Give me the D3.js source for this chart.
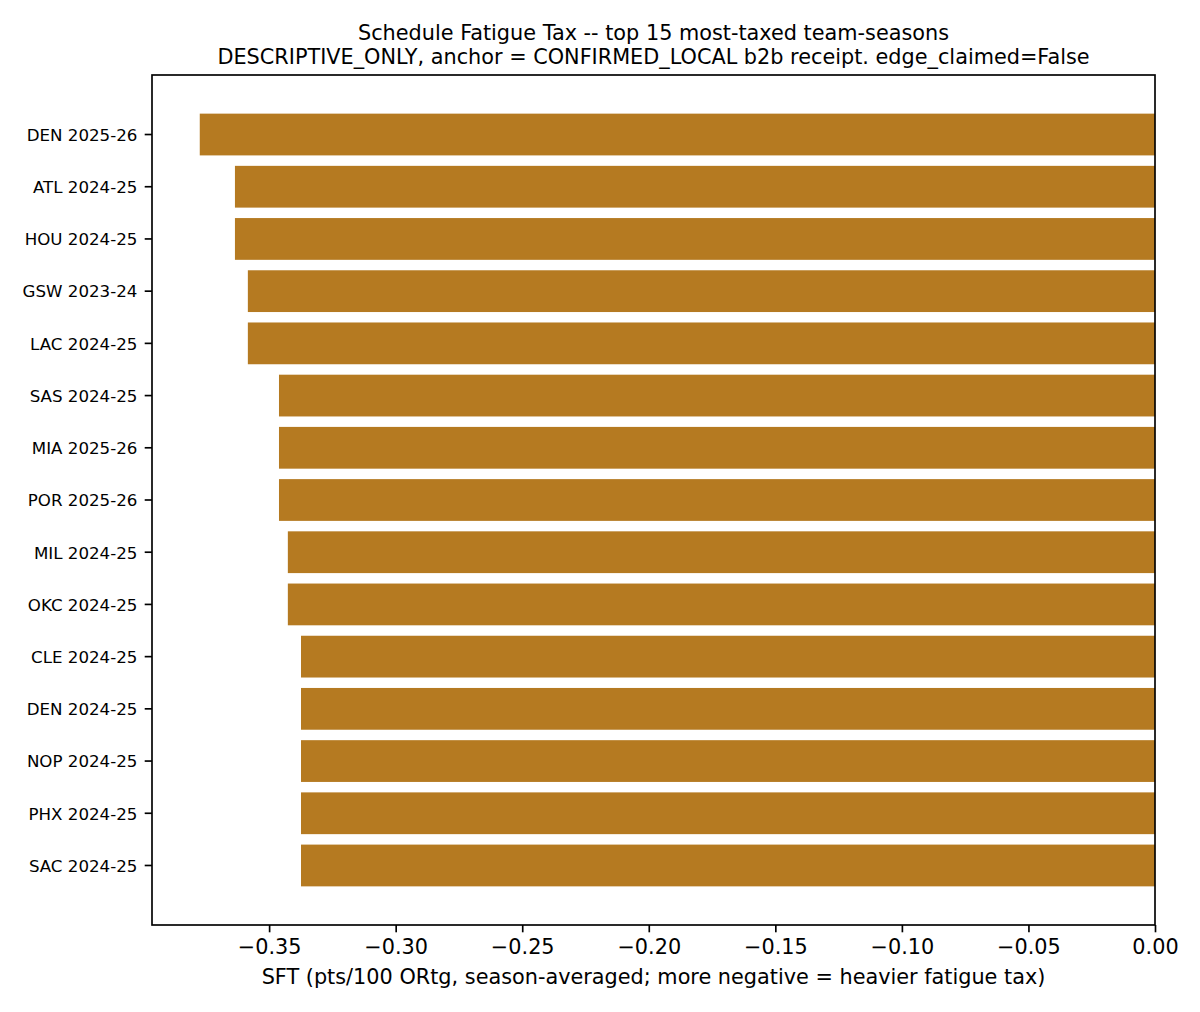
<!DOCTYPE html>
<html>
<head>
<meta charset="utf-8">
<script src="https://cdn.jsdelivr.net/npm/d3@7"></script>
<style>
  html, body { margin: 0; padding: 0; background: #fff; }
  svg { display: block; font-family: "DejaVu Sans", sans-serif; }
  .axis path, .axis line { stroke: #000; stroke-width: 1.67px; }
  .axis text { fill: #000; font-family: "DejaVu Sans", sans-serif; }
</style>
</head>
<body>
<svg id="chart" width="1200" height="1012"></svg>
<script>
// ---- data ----
const teams = ['DEN 2025-26', 'ATL 2024-25', 'HOU 2024-25', 'GSW 2023-24', 'LAC 2024-25',
               'SAS 2024-25', 'MIA 2025-26', 'POR 2025-26', 'MIL 2024-25', 'OKC 2024-25',
               'CLE 2024-25', 'DEN 2024-25', 'NOP 2024-25', 'PHX 2024-25', 'SAC 2024-25'];
const sft = [-0.3774, -0.3635, -0.3635, -0.3584, -0.3584,
             -0.3461, -0.3461, -0.3461, -0.3426, -0.3426,
             -0.3374, -0.3374, -0.3374, -0.3374, -0.3374];
const xTicks = [-0.35, -0.30, -0.25, -0.20, -0.15, -0.10, -0.05, 0.00];

const titleLines = ['Schedule Fatigue Tax -- top 15 most-taxed team-seasons',
                    'DESCRIPTIVE_ONLY, anchor = CONFIRMED_LOCAL b2b receipt. edge_claimed=False'];
const xLabel = 'SFT (pts/100 ORtg, season-averaged; more negative = heavier fatigue tax)';

const BAR = '#b57a21';

// ---- layout ----
const m = { left: 152, right: 1155, top: 75, bottom: 925 };
const svg = d3.select('#chart');

const lo = d3.min(sft);
const x = d3.scaleLinear([lo * 1.05, 0], [m.left, m.right]);   // matplotlib 5% margin
const y = d3.scaleBand(teams, [m.top, m.bottom]).paddingInner(0.2).paddingOuter(0.74);

// bars
svg.append('g').selectAll('rect').data(teams).join('rect')
  .attr('x', (d, i) => x(sft[i]))
  .attr('width', (d, i) => x(0) - x(sft[i]))
  .attr('y', d => y(d)).attr('height', y.bandwidth())
  .attr('fill', BAR);

// axes
const fmt = d3.format('.2f');
svg.append('g').attr('class', 'axis').attr('transform', `translate(0,${m.bottom})`)
  .call(d3.axisBottom(x).tickValues(xTicks).tickFormat(fmt).tickSize(7.3).tickPadding(7.3).tickSizeOuter(0))
  .attr('font-family', null).attr('font-size', null)
  .call(g => g.selectAll('text').style('font-size', '20.8px'))
  .call(g => g.select('.domain').remove());
svg.append('g').attr('class', 'axis').attr('transform', `translate(${m.left},0)`)
  .call(d3.axisLeft(y).tickSize(7.3).tickPadding(7.3).tickSizeOuter(0))
  .attr('font-family', null).attr('font-size', null)
  .call(g => g.selectAll('text').style('font-size', '16.67px').attr('dy', '0.38em'))
  .call(g => g.select('.domain').remove());

// frame (spines)
svg.append('rect').attr('x', m.left).attr('y', m.top)
  .attr('width', m.right - m.left).attr('height', m.bottom - m.top)
  .attr('fill', 'none').attr('stroke', '#000').attr('stroke-width', 1.67);

// title + label
svg.append('g').selectAll('text').data(titleLines).join('text')
  .attr('x', (m.left + m.right) / 2).attr('y', (d, i) => 40 + i * 23.5)
  .attr('text-anchor', 'middle').style('font-size', '20.8px').text(d => d);
svg.append('text').attr('x', (m.left + m.right) / 2).attr('y', 984)
  .attr('text-anchor', 'middle').style('font-size', '20.8px').text(xLabel);
</script>
</body>
</html>
